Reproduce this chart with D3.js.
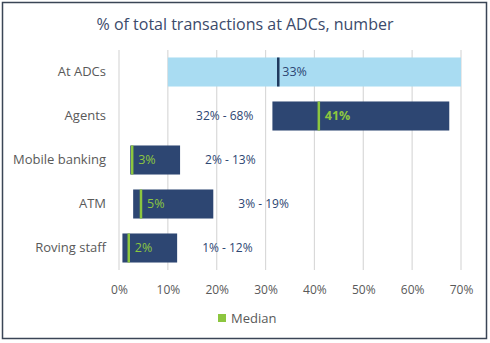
<!DOCTYPE html>
<html><head><meta charset="utf-8">
<script src="https://cdn.jsdelivr.net/npm/d3@7"></script>
<style>body{margin:0;background:#fff;}svg{display:block;font-family:"Open Sans",sans-serif;}</style>
</head><body>
<svg id="c" width="490" height="343"></svg>
<script>
const categories = ["At ADCs","Agents","Mobile banking","ATM","Roving staff"];
const lowValues = [10, 31.4, 2.3, 2.9, 0.7];
const highValues = [70, 67.6, 12.5, 19.3, 11.9];
const medianValues = [32.6, 40.9, 2.7, 4.5, 2.0];
const rangeLabels = ["", "32% - 68%", "2% - 13%", "3% - 19%", "1% - 12%"];
const tickValues = [0,10,20,30,40,50,60,70];
const title = "% of total transactions at ADCs, number";
const legendLabel = "Median";

const svg = d3.select("#c");
svg.append("rect").attr("x",2.5).attr("y",2.5).attr("width",484).attr("height",336)
  .attr("fill","#fff").attr("stroke","#3a4556").attr("stroke-width",1.5);

svg.append("text").attr("x",245).attr("y",30).attr("text-anchor","middle")
  .attr("font-size",16).attr("fill","#3b4a6b").text(title);

const x = d3.scaleLinear().domain([0,70]).range([119,461]);
const y = d3.scaleBand().domain(categories).range([50,270]).paddingInner(0.34).paddingOuter(0.17);

// gridlines
svg.append("g").selectAll("line").data(tickValues).join("line")
  .attr("x1",d=>x(d)).attr("x2",d=>x(d)).attr("y1",50).attr("y2",270)
  .attr("stroke","#d9d9d9").attr("stroke-width",1.2);

// x axis labels
const xAxis = d3.axisBottom(x).tickValues(tickValues).tickFormat(d=>d+"%").tickSize(0).tickPadding(0);
const gx = svg.append("g").attr("transform","translate(0,285)").call(xAxis);
gx.select(".domain").remove();
gx.selectAll("text").attr("font-size",12).attr("fill","#595959").attr("font-family","Open Sans, sans-serif");

// category labels
const yAxis = d3.axisLeft(y).tickSize(0).tickPadding(0);
const gy = svg.append("g").attr("transform","translate(106,0)").call(yAxis);
gy.select(".domain").remove();
gy.selectAll("text").attr("font-size",13).attr("fill","#595959").attr("font-family","Open Sans, sans-serif");

const data = categories.map((c,i)=>({c,lo:lowValues[i],hi:highValues[i],med:medianValues[i],rl:rangeLabels[i],i}));

// bars
svg.append("g").selectAll("rect").data(data).join("rect")
  .attr("x",d=>x(d.lo)).attr("width",d=>x(d.hi)-x(d.lo))
  .attr("y",d=>y(d.c)).attr("height",y.bandwidth())
  .attr("fill",d=>d.i===0?"#a9dcf2":"#2d4672");

// median lines
svg.append("g").selectAll("line").data(data).join("line")
  .attr("x1",d=>x(d.med)).attr("x2",d=>x(d.med))
  .attr("y1",d=>y(d.c)).attr("y2",d=>y(d.c)+y.bandwidth())
  .attr("stroke",d=>d.i===0?"#1f3a5f":"#8cc63f").attr("stroke-width",2.5);

// median labels
svg.append("g").selectAll("text").data(data).join("text")
  .attr("x",d=>x(d.med)+(d.i===0?4:6)).attr("y",d=>y(d.c)+y.bandwidth()/2)
  .attr("dy","0.35em").attr("font-size",12.5)
  .attr("font-weight",d=>d.i===1?"bold":"normal")
  .attr("fill",d=>d.i===0?"#2d4672":"#8cc63f")
  .text(d=>Math.round(d.med)+"%");

// range labels
svg.append("g").selectAll("text").data(data.filter(d=>d.rl)).join("text")
  .attr("x",d=>d.i===1?x(d.lo)-19:x(d.hi)+25)
  .attr("text-anchor",d=>d.i===1?"end":"start")
  .attr("y",d=>y(d.c)+y.bandwidth()/2).attr("dy","0.35em")
  .attr("font-size",12).attr("fill","#2d4672").text(d=>d.rl);

// legend
svg.append("rect").attr("x",218).attr("y",314).attr("width",8).attr("height",8).attr("fill","#8cc63f");
svg.append("text").attr("x",231).attr("y",318).attr("dy","0.35em").attr("font-size",13)
  .attr("fill","#595959").text(legendLabel);
</script>
</body></html>
